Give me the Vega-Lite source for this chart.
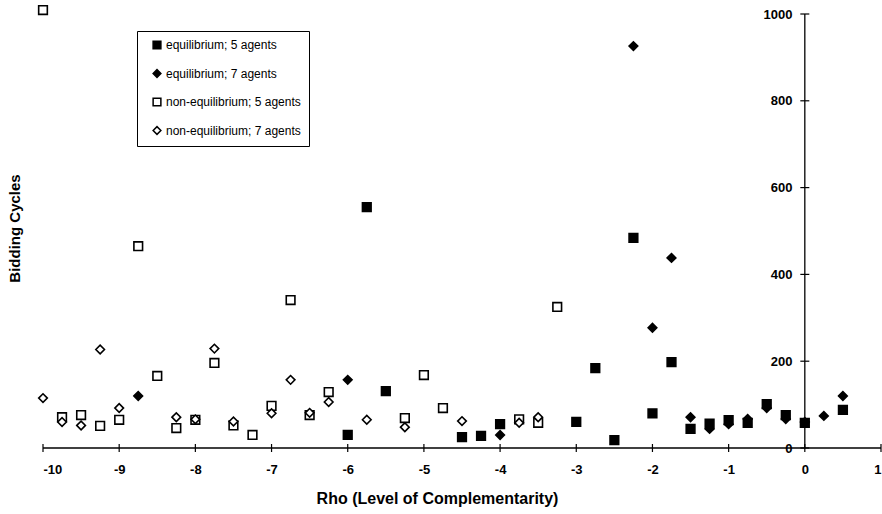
{
  "$schema": "https://vega.github.io/schema/vega-lite/v6.json",
  "width": 838,
  "height": 434,
  "autosize": "none",
  "padding": {"left": 43, "top": 14, "right": 1, "bottom": 66},
  "background": "white",
  "config": {"view": {"stroke": null}, "font": "Liberation Sans"},
  "datasets": {
    "axislines": [
      {"ax": "x", "rho": -10, "cycles": 0},
      {"ax": "x", "rho": 1, "cycles": 0},
      {"ax": "y", "rho": 0, "cycles": 0},
      {"ax": "y", "rho": 0, "cycles": 1000}
    ],
    "xticks": [
      {"rho": -10, "cycles": 0}, {"rho": -9, "cycles": 0}, {"rho": -8, "cycles": 0}, {"rho": -7, "cycles": 0},
      {"rho": -6, "cycles": 0}, {"rho": -5, "cycles": 0}, {"rho": -4, "cycles": 0}, {"rho": -3, "cycles": 0},
      {"rho": -2, "cycles": 0}, {"rho": -1, "cycles": 0}, {"rho": 0, "cycles": 0}, {"rho": 1, "cycles": 0}
    ],
    "yticks": [
      {"rho": 0, "cycles": 0}, {"rho": 0, "cycles": 200}, {"rho": 0, "cycles": 400},
      {"rho": 0, "cycles": 600}, {"rho": 0, "cycles": 800}, {"rho": 0, "cycles": 1000}
    ],
    "points": [
      {"rho": -6, "cycles": 30, "series": "equilibrium; 5 agents"},
      {"rho": -5.75, "cycles": 555, "series": "equilibrium; 5 agents"},
      {"rho": -5.5, "cycles": 131, "series": "equilibrium; 5 agents"},
      {"rho": -4.5, "cycles": 25, "series": "equilibrium; 5 agents"},
      {"rho": -4.25, "cycles": 28, "series": "equilibrium; 5 agents"},
      {"rho": -4, "cycles": 55, "series": "equilibrium; 5 agents"},
      {"rho": -3, "cycles": 60, "series": "equilibrium; 5 agents"},
      {"rho": -2.75, "cycles": 184, "series": "equilibrium; 5 agents"},
      {"rho": -2.5, "cycles": 18, "series": "equilibrium; 5 agents"},
      {"rho": -2.25, "cycles": 484, "series": "equilibrium; 5 agents"},
      {"rho": -2, "cycles": 80, "series": "equilibrium; 5 agents"},
      {"rho": -1.75, "cycles": 198, "series": "equilibrium; 5 agents"},
      {"rho": -1.5, "cycles": 44, "series": "equilibrium; 5 agents"},
      {"rho": -1.25, "cycles": 56, "series": "equilibrium; 5 agents"},
      {"rho": -1, "cycles": 64, "series": "equilibrium; 5 agents"},
      {"rho": -0.75, "cycles": 58, "series": "equilibrium; 5 agents"},
      {"rho": -0.5, "cycles": 101, "series": "equilibrium; 5 agents"},
      {"rho": -0.25, "cycles": 76, "series": "equilibrium; 5 agents"},
      {"rho": 0, "cycles": 58, "series": "equilibrium; 5 agents"},
      {"rho": 0.5, "cycles": 88, "series": "equilibrium; 5 agents"},
      {"rho": -8.75, "cycles": 120, "series": "equilibrium; 7 agents"},
      {"rho": -6, "cycles": 157, "series": "equilibrium; 7 agents"},
      {"rho": -4, "cycles": 30, "series": "equilibrium; 7 agents"},
      {"rho": -2.25, "cycles": 926, "series": "equilibrium; 7 agents"},
      {"rho": -2, "cycles": 277, "series": "equilibrium; 7 agents"},
      {"rho": -1.75, "cycles": 438, "series": "equilibrium; 7 agents"},
      {"rho": -1.5, "cycles": 71, "series": "equilibrium; 7 agents"},
      {"rho": -1.25, "cycles": 44, "series": "equilibrium; 7 agents"},
      {"rho": -1, "cycles": 55, "series": "equilibrium; 7 agents"},
      {"rho": -0.75, "cycles": 67, "series": "equilibrium; 7 agents"},
      {"rho": -0.5, "cycles": 92, "series": "equilibrium; 7 agents"},
      {"rho": -0.25, "cycles": 67, "series": "equilibrium; 7 agents"},
      {"rho": 0, "cycles": 60, "series": "equilibrium; 7 agents"},
      {"rho": 0.25, "cycles": 74, "series": "equilibrium; 7 agents"},
      {"rho": 0.5, "cycles": 120, "series": "equilibrium; 7 agents"},
      {"rho": -10, "cycles": 1009, "series": "non-equilibrium; 5 agents"},
      {"rho": -9.75, "cycles": 71, "series": "non-equilibrium; 5 agents"},
      {"rho": -9.5, "cycles": 76, "series": "non-equilibrium; 5 agents"},
      {"rho": -9.25, "cycles": 51, "series": "non-equilibrium; 5 agents"},
      {"rho": -9, "cycles": 65, "series": "non-equilibrium; 5 agents"},
      {"rho": -8.75, "cycles": 465, "series": "non-equilibrium; 5 agents"},
      {"rho": -8.5, "cycles": 166, "series": "non-equilibrium; 5 agents"},
      {"rho": -8.25, "cycles": 46, "series": "non-equilibrium; 5 agents"},
      {"rho": -8, "cycles": 65, "series": "non-equilibrium; 5 agents"},
      {"rho": -7.75, "cycles": 196, "series": "non-equilibrium; 5 agents"},
      {"rho": -7.5, "cycles": 52, "series": "non-equilibrium; 5 agents"},
      {"rho": -7.25, "cycles": 30, "series": "non-equilibrium; 5 agents"},
      {"rho": -7, "cycles": 97, "series": "non-equilibrium; 5 agents"},
      {"rho": -6.75, "cycles": 341, "series": "non-equilibrium; 5 agents"},
      {"rho": -6.5, "cycles": 76, "series": "non-equilibrium; 5 agents"},
      {"rho": -6.25, "cycles": 129, "series": "non-equilibrium; 5 agents"},
      {"rho": -5.25, "cycles": 69, "series": "non-equilibrium; 5 agents"},
      {"rho": -5, "cycles": 168, "series": "non-equilibrium; 5 agents"},
      {"rho": -4.75, "cycles": 92, "series": "non-equilibrium; 5 agents"},
      {"rho": -3.75, "cycles": 66, "series": "non-equilibrium; 5 agents"},
      {"rho": -3.5, "cycles": 58, "series": "non-equilibrium; 5 agents"},
      {"rho": -3.25, "cycles": 325, "series": "non-equilibrium; 5 agents"},
      {"rho": -10, "cycles": 115, "series": "non-equilibrium; 7 agents"},
      {"rho": -9.75, "cycles": 60, "series": "non-equilibrium; 7 agents"},
      {"rho": -9.5, "cycles": 52, "series": "non-equilibrium; 7 agents"},
      {"rho": -9.25, "cycles": 227, "series": "non-equilibrium; 7 agents"},
      {"rho": -9, "cycles": 92, "series": "non-equilibrium; 7 agents"},
      {"rho": -8.25, "cycles": 71, "series": "non-equilibrium; 7 agents"},
      {"rho": -8, "cycles": 66, "series": "non-equilibrium; 7 agents"},
      {"rho": -7.75, "cycles": 229, "series": "non-equilibrium; 7 agents"},
      {"rho": -7.5, "cycles": 61, "series": "non-equilibrium; 7 agents"},
      {"rho": -7, "cycles": 80, "series": "non-equilibrium; 7 agents"},
      {"rho": -6.75, "cycles": 157, "series": "non-equilibrium; 7 agents"},
      {"rho": -6.5, "cycles": 81, "series": "non-equilibrium; 7 agents"},
      {"rho": -6.25, "cycles": 106, "series": "non-equilibrium; 7 agents"},
      {"rho": -5.75, "cycles": 65, "series": "non-equilibrium; 7 agents"},
      {"rho": -5.25, "cycles": 48, "series": "non-equilibrium; 7 agents"},
      {"rho": -4.5, "cycles": 62, "series": "non-equilibrium; 7 agents"},
      {"rho": -3.75, "cycles": 58, "series": "non-equilibrium; 7 agents"},
      {"rho": -3.5, "cycles": 71, "series": "non-equilibrium; 7 agents"}
    ]
  },
  "layer": [
    {
      "data": {"name": "axislines"},
      "mark": {"type": "line", "color": "black", "strokeWidth": 1.3},
      "encoding": {
        "x": {
          "field": "rho", "type": "quantitative", "title": "Rho (Level of Complementarity)",
          "scale": {"domain": [-10, 1], "nice": false, "zero": false},
          "axis": {
            "values": [-10, -9, -8, -7, -6, -5, -4, -3, -2, -1, 0, 1],
            "grid": false, "domain": false, "ticks": false,
            "labelFont": "Liberation Sans", "labelFontWeight": "bold", "labelFontSize": 13, "labelColor": "black",
            "labelPadding": 15,
            "labelExpr": "datum.value < 0 ? '-' + abs(datum.value) : '' + datum.value",
            "titleFont": "Liberation Sans", "titleFontWeight": "bold", "titleFontSize": 16, "titleColor": "black",
            "titleX": 394, "titleY": 50, "titleBaseline": "middle", "titleAlign": "center"
          }
        },
        "y": {
          "field": "cycles", "type": "quantitative", "title": "Bidding Cycles",
          "scale": {"domain": [0, 1000], "nice": false},
          "axis": {
            "orient": "left", "offset": -761,
            "values": [0, 200, 400, 600, 800, 1000],
            "format": "d",
            "grid": false, "domain": false, "ticks": false,
            "labelFont": "Liberation Sans", "labelFontWeight": "bold", "labelFontSize": 13, "labelColor": "black",
            "labelPadding": 12,
            "titleFont": "Liberation Sans", "titleFontWeight": "bold", "titleFontSize": 15, "titleColor": "black",
            "titleX": -790, "titleY": 214, "titleAngle": 270, "titleBaseline": "middle", "titleAlign": "center"
          }
        },
        "detail": {"field": "ax", "type": "nominal"}
      }
    },
    {
      "data": {"name": "xticks"},
      "mark": {"type": "tick", "orient": "vertical", "color": "black", "size": 8, "thickness": 1.2, "opacity": 1},
      "encoding": {
        "x": {"field": "rho", "type": "quantitative", "title": "Rho (Level of Complementarity)"},
        "y": {"field": "cycles", "type": "quantitative", "title": "Bidding Cycles"}
      }
    },
    {
      "data": {"name": "yticks"},
      "mark": {"type": "tick", "orient": "horizontal", "color": "black", "size": 9, "thickness": 1.2, "opacity": 1},
      "encoding": {
        "x": {"field": "rho", "type": "quantitative", "title": "Rho (Level of Complementarity)"},
        "y": {"field": "cycles", "type": "quantitative", "title": "Bidding Cycles"}
      }
    },
    {
      "data": {"name": "points"},
      "mark": {"type": "point", "filled": true, "strokeWidth": 1.6, "opacity": 1, "size": 75},
      "encoding": {
        "x": {"field": "rho", "type": "quantitative", "title": "Rho (Level of Complementarity)"},
        "y": {"field": "cycles", "type": "quantitative", "title": "Bidding Cycles"},
        "stroke": {"value": "black"},
        "shape": {
          "field": "series", "type": "nominal",
          "scale": {
            "domain": ["equilibrium; 5 agents", "equilibrium; 7 agents", "non-equilibrium; 5 agents", "non-equilibrium; 7 agents"],
            "range": ["square", "diamond", "square", "diamond"]
          },
          "legend": {
            "orient": "none", "legendX": 94, "legendY": 17,
            "title": null,
            "strokeColor": "black", "fillColor": "white", "padding": 8,
            "rowPadding": 14.5,
            "symbolOffset": 6,
            "labelFont": "Liberation Sans", "labelFontSize": 12, "labelColor": "black", "labelOffset": 3,
            "symbolSize": 60,
            "encode": {"symbols": {"update": {"stroke": {"value": "black"}, "strokeWidth": {"value": 1.5}}}}
          }
        },
        "fill": {
          "field": "series", "type": "nominal",
          "scale": {
            "domain": ["equilibrium; 5 agents", "equilibrium; 7 agents", "non-equilibrium; 5 agents", "non-equilibrium; 7 agents"],
            "range": ["black", "black", "white", "white"]
          },
          "legend": null
        }
      }
    }
  ]
}
